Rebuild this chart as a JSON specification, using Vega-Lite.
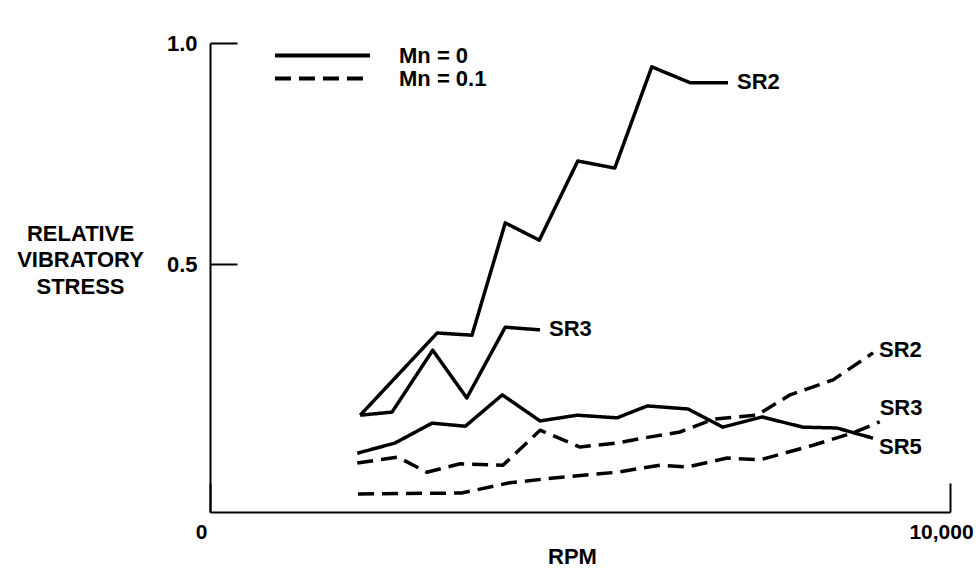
{
  "$schema": "https://vega.github.io/schema/vega-lite/v6.json",
  "width": 740,
  "height": 469,
  "autosize": "none",
  "padding": {"left": 210, "top": 43, "right": 28, "bottom": 58},
  "background": "white",
  "config": {
    "view": {"stroke": null},
    "font": "Liberation Sans",
    "text": {"font": "Liberation Sans", "fontWeight": "bold", "fontSize": 22, "color": "black"}
  },
  "data": {
    "values": [
      {"series": "SR2", "mn": "Mn = 0", "rpm": 2030, "stress": 0.158},
      {"series": "SR2", "mn": "Mn = 0", "rpm": 3070, "stress": 0.344},
      {"series": "SR2", "mn": "Mn = 0", "rpm": 3540, "stress": 0.339},
      {"series": "SR2", "mn": "Mn = 0", "rpm": 3990, "stress": 0.593},
      {"series": "SR2", "mn": "Mn = 0", "rpm": 4450, "stress": 0.554},
      {"series": "SR2", "mn": "Mn = 0", "rpm": 4970, "stress": 0.733},
      {"series": "SR2", "mn": "Mn = 0", "rpm": 5470, "stress": 0.717},
      {"series": "SR2", "mn": "Mn = 0", "rpm": 5970, "stress": 0.946},
      {"series": "SR2", "mn": "Mn = 0", "rpm": 6490, "stress": 0.91},
      {"series": "SR2", "mn": "Mn = 0", "rpm": 7000, "stress": 0.91},
      {"series": "SR3", "mn": "Mn = 0", "rpm": 2030, "stress": 0.158},
      {"series": "SR3", "mn": "Mn = 0", "rpm": 2460, "stress": 0.165},
      {"series": "SR3", "mn": "Mn = 0", "rpm": 3010, "stress": 0.305},
      {"series": "SR3", "mn": "Mn = 0", "rpm": 3470, "stress": 0.197},
      {"series": "SR3", "mn": "Mn = 0", "rpm": 3990, "stress": 0.357},
      {"series": "SR3", "mn": "Mn = 0", "rpm": 4460, "stress": 0.351},
      {"series": "SR5", "mn": "Mn = 0", "rpm": 1990, "stress": 0.072},
      {"series": "SR5", "mn": "Mn = 0", "rpm": 2500, "stress": 0.095},
      {"series": "SR5", "mn": "Mn = 0", "rpm": 3000, "stress": 0.14},
      {"series": "SR5", "mn": "Mn = 0", "rpm": 3450, "stress": 0.133},
      {"series": "SR5", "mn": "Mn = 0", "rpm": 3950, "stress": 0.204},
      {"series": "SR5", "mn": "Mn = 0", "rpm": 4460, "stress": 0.145},
      {"series": "SR5", "mn": "Mn = 0", "rpm": 4960, "stress": 0.158},
      {"series": "SR5", "mn": "Mn = 0", "rpm": 5500, "stress": 0.152},
      {"series": "SR5", "mn": "Mn = 0", "rpm": 5910, "stress": 0.179},
      {"series": "SR5", "mn": "Mn = 0", "rpm": 6460, "stress": 0.172},
      {"series": "SR5", "mn": "Mn = 0", "rpm": 6930, "stress": 0.131},
      {"series": "SR5", "mn": "Mn = 0", "rpm": 7460, "stress": 0.154},
      {"series": "SR5", "mn": "Mn = 0", "rpm": 8010, "stress": 0.131},
      {"series": "SR5", "mn": "Mn = 0", "rpm": 8470, "stress": 0.129},
      {"series": "SR5", "mn": "Mn = 0", "rpm": 8960, "stress": 0.106},
      {"series": "SR2", "mn": "Mn = 0.1", "rpm": 1990, "stress": 0.05},
      {"series": "SR2", "mn": "Mn = 0.1", "rpm": 2540, "stress": 0.063},
      {"series": "SR2", "mn": "Mn = 0.1", "rpm": 2930, "stress": 0.029},
      {"series": "SR2", "mn": "Mn = 0.1", "rpm": 3380, "stress": 0.048},
      {"series": "SR2", "mn": "Mn = 0.1", "rpm": 3960, "stress": 0.045},
      {"series": "SR2", "mn": "Mn = 0.1", "rpm": 4460, "stress": 0.124},
      {"series": "SR2", "mn": "Mn = 0.1", "rpm": 5000, "stress": 0.086},
      {"series": "SR2", "mn": "Mn = 0.1", "rpm": 5500, "stress": 0.095},
      {"series": "SR2", "mn": "Mn = 0.1", "rpm": 5950, "stress": 0.109},
      {"series": "SR2", "mn": "Mn = 0.1", "rpm": 6350, "stress": 0.12},
      {"series": "SR2", "mn": "Mn = 0.1", "rpm": 6800, "stress": 0.149},
      {"series": "SR2", "mn": "Mn = 0.1", "rpm": 7390, "stress": 0.158},
      {"series": "SR2", "mn": "Mn = 0.1", "rpm": 7840, "stress": 0.204},
      {"series": "SR2", "mn": "Mn = 0.1", "rpm": 8420, "stress": 0.238},
      {"series": "SR2", "mn": "Mn = 0.1", "rpm": 8960, "stress": 0.299},
      {"series": "SR3", "mn": "Mn = 0.1", "rpm": 2000, "stress": -0.02},
      {"series": "SR3", "mn": "Mn = 0.1", "rpm": 3400, "stress": -0.018},
      {"series": "SR3", "mn": "Mn = 0.1", "rpm": 4050, "stress": 0.005},
      {"series": "SR3", "mn": "Mn = 0.1", "rpm": 4640, "stress": 0.016},
      {"series": "SR3", "mn": "Mn = 0.1", "rpm": 5500, "stress": 0.029},
      {"series": "SR3", "mn": "Mn = 0.1", "rpm": 6080, "stress": 0.045},
      {"series": "SR3", "mn": "Mn = 0.1", "rpm": 6450, "stress": 0.041},
      {"series": "SR3", "mn": "Mn = 0.1", "rpm": 6990, "stress": 0.061},
      {"series": "SR3", "mn": "Mn = 0.1", "rpm": 7430, "stress": 0.057},
      {"series": "SR3", "mn": "Mn = 0.1", "rpm": 8150, "stress": 0.09},
      {"series": "SR3", "mn": "Mn = 0.1", "rpm": 8690, "stress": 0.118},
      {"series": "SR3", "mn": "Mn = 0.1", "rpm": 9050, "stress": 0.143}
    ]
  },
  "encoding": {
    "x": {
      "field": "rpm", "type": "quantitative",
      "scale": {"domain": [0, 10000], "nice": false, "zero": false},
      "axis": {
        "values": [0, 10000], "format": ",.0f", "grid": false,
        "title": "RPM", "titleX": 362, "titleY": 34, "titleBaseline": "top", "titleAlign": "center",
        "titleFont": "Liberation Sans", "titleFontSize": 22, "titleFontWeight": "bold", "titleColor": "black",
        "domainColor": "black", "domainWidth": 2,
        "tickColor": "black", "tickWidth": 2, "tickSize": -29,
        "labelPadding": 38, "labelOffset": -9, "labelFlush": false,
        "labelFont": "Liberation Sans", "labelFontSize": 21, "labelFontWeight": "bold", "labelColor": "black"
      }
    },
    "y": {
      "field": "stress", "type": "quantitative",
      "scale": {"domain": [-0.061, 1], "nice": false, "zero": false},
      "axis": {
        "values": [0.5, 1], "format": ".1f", "grid": false,
        "title": ["RELATIVE", "VIBRATORY", "STRESS"], "titleAngle": 0, "titleAlign": "center",
        "titleBaseline": "alphabetic", "titleX": -130, "titleY": 197, "titleLineHeight": 26.5,
        "titleFont": "Liberation Sans", "titleFontSize": 22, "titleFontWeight": "bold", "titleColor": "black",
        "domainColor": "black", "domainWidth": 2,
        "tickColor": "black", "tickWidth": 2, "tickSize": -27,
        "labelPadding": 40, "labelFlush": false,
        "labelFont": "Liberation Sans", "labelFontSize": 22, "labelFontWeight": "bold", "labelColor": "black"
      }
    }
  },
  "layer": [
    {
      "mark": {"type": "line", "color": "black", "strokeWidth": 3.5, "strokeJoin": "round"},
      "encoding": {
        "strokeDash": {
          "field": "mn", "type": "nominal",
          "scale": {"domain": ["Mn = 0", "Mn = 0.1"], "range": [[1, 0], [16, 8]]},
          "legend": {
            "title": null, "orient": "none", "legendX": 101, "legendY": 1,
            "symbolType": "M-5,0L5,0", "symbolSize": 361, "symbolStrokeWidth": 4, "symbolStrokeColor": "black",
            "labelFont": "Liberation Sans", "labelFontSize": 22, "labelFontWeight": "bold", "labelColor": "black",
            "labelOffset": 65, "rowPadding": -4
          }
        },
        "detail": [{"field": "series"}, {"field": "mn"}],
        "order": {"field": "rpm"}
      }
    },
    {
      "transform": [
        {"joinaggregate": [{"op": "max", "field": "rpm", "as": "maxrpm"}], "groupby": ["series", "mn"]},
        {"filter": "datum.rpm == datum.maxrpm && datum.mn == 'Mn = 0' && datum.series != 'SR5'"}
      ],
      "mark": {"type": "text", "align": "left", "baseline": "middle", "dx": 9, "dy": -1},
      "encoding": {"text": {"field": "series"}}
    },
    {
      "transform": [
        {"joinaggregate": [{"op": "max", "field": "rpm", "as": "maxrpm"}], "groupby": ["series", "mn"]},
        {"filter": "datum.rpm == datum.maxrpm && datum.mn == 'Mn = 0.1' && datum.series == 'SR2'"}
      ],
      "mark": {"type": "text", "align": "left", "baseline": "middle", "dx": 6, "dy": -3},
      "encoding": {"text": {"field": "series"}}
    },
    {
      "transform": [
        {"joinaggregate": [{"op": "max", "field": "rpm", "as": "maxrpm"}], "groupby": ["series", "mn"]},
        {"filter": "datum.rpm == datum.maxrpm && datum.mn == 'Mn = 0.1' && datum.series == 'SR3'"}
      ],
      "mark": {"type": "text", "align": "left", "baseline": "middle", "dx": 0, "dy": -14},
      "encoding": {"text": {"field": "series"}}
    },
    {
      "transform": [
        {"joinaggregate": [{"op": "max", "field": "rpm", "as": "maxrpm"}], "groupby": ["series", "mn"]},
        {"filter": "datum.rpm == datum.maxrpm && datum.series == 'SR5'"}
      ],
      "mark": {"type": "text", "align": "left", "baseline": "middle", "dx": 6, "dy": 9},
      "encoding": {"text": {"field": "series"}}
    }
  ]
}
